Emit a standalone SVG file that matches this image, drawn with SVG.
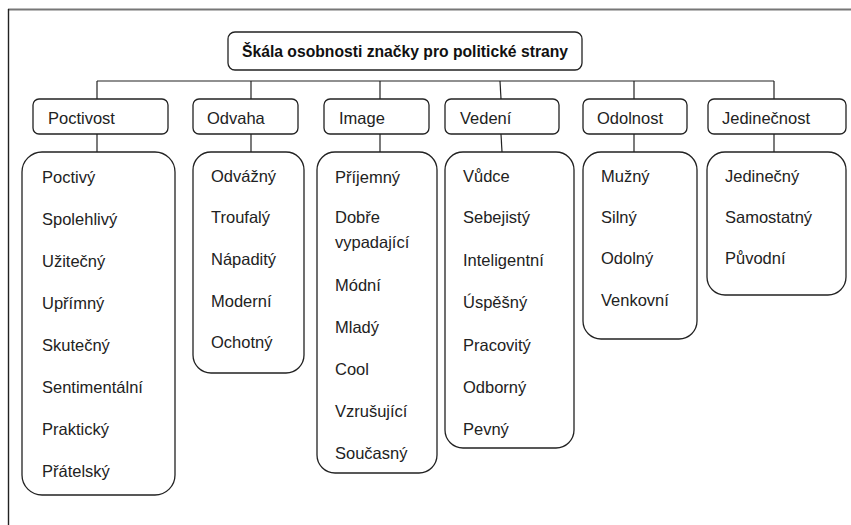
<svg xmlns="http://www.w3.org/2000/svg" width="851" height="525" viewBox="0 0 851 525">
<style>
.box{fill:#fff;stroke:#222;stroke-width:1.3}
.t{font-family:"Liberation Sans",Arial,sans-serif;font-size:16.5px;fill:#222}
.title{font-family:"Liberation Sans",Arial,sans-serif;font-size:15.7px;font-weight:bold;fill:#111}
.c line{stroke:#222;stroke-width:1.2}
</style>
<rect width="851" height="525" fill="#fff"/>
<g id="frame">
<line x1="8" y1="9.5" x2="851" y2="9.5" stroke="#777" stroke-width="1.8"/>
<line x1="8.5" y1="9" x2="8.5" y2="525" stroke="#222" stroke-width="1.4"/>
</g>
<g class="c" id="connectors">
<line x1="97" y1="81" x2="774" y2="81"/>
<line x1="97" y1="81" x2="97" y2="99"/>
<line x1="251" y1="81" x2="251" y2="99"/>
<line x1="380" y1="81" x2="380" y2="99"/>
<line x1="500" y1="81" x2="501" y2="99"/>
<line x1="634" y1="81" x2="634" y2="99"/>
<line x1="774" y1="81" x2="774" y2="99"/>
<line x1="97" y1="134" x2="97" y2="152"/>
<line x1="251" y1="134" x2="251" y2="152"/>
<line x1="380" y1="134" x2="380" y2="152"/>
<line x1="501" y1="134" x2="502" y2="152"/>
<line x1="634" y1="134" x2="634" y2="152"/>
<line x1="774" y1="134" x2="774" y2="152"/>
</g>
<g id="title">
<rect class="box" x="228" y="32" width="354" height="38" rx="7"/>
<text class="title" x="405" y="57" text-anchor="middle">Škála osobnosti značky pro politické strany</text>
</g>
<g id="cat-poctivost">
<rect class="box" x="33" y="99" width="135" height="35" rx="6"/>
<text class="t" x="48" y="124">Poctivost</text>
</g>
<g id="cat-odvaha">
<rect class="box" x="193" y="99" width="105" height="35" rx="6"/>
<text class="t" x="207" y="124">Odvaha</text>
</g>
<g id="cat-image">
<rect class="box" x="324" y="99" width="105" height="35" rx="6"/>
<text class="t" x="339" y="124">Image</text>
</g>
<g id="cat-vedeni">
<rect class="box" x="445" y="99" width="114" height="35" rx="6"/>
<text class="t" x="460" y="124">Vedení</text>
</g>
<g id="cat-odolnost">
<rect class="box" x="583" y="99" width="104" height="35" rx="6"/>
<text class="t" x="597" y="124">Odolnost</text>
</g>
<g id="cat-jedinecnost">
<rect class="box" x="708" y="99" width="138" height="35" rx="6"/>
<text class="t" x="722" y="124">Jedinečnost</text>
</g>
<g id="list-poctivost">
<rect class="box" x="22" y="152" width="153" height="343" rx="20"/>
<text class="t" x="42" y="183">Poctivý</text>
<text class="t" x="42" y="225">Spolehlivý</text>
<text class="t" x="42" y="267">Užitečný</text>
<text class="t" x="42" y="309">Upřímný</text>
<text class="t" x="42" y="351">Skutečný</text>
<text class="t" x="42" y="393">Sentimentální</text>
<text class="t" x="42" y="435">Praktický</text>
<text class="t" x="42" y="477">Přátelský</text>
</g>
<g id="list-odvaha">
<rect class="box" x="193" y="152" width="111" height="221" rx="18"/>
<text class="t" x="211" y="182">Odvážný</text>
<text class="t" x="211" y="223">Troufalý</text>
<text class="t" x="211" y="265">Nápaditý</text>
<text class="t" x="211" y="307">Moderní</text>
<text class="t" x="211" y="348">Ochotný</text>
</g>
<g id="list-image">
<rect class="box" x="317" y="152" width="120" height="321" rx="18"/>
<text class="t" x="335" y="183">Příjemný</text>
<text class="t" x="335" y="223">Dobře</text>
<text class="t" x="335" y="248">vypadající</text>
<text class="t" x="335" y="291">Módní</text>
<text class="t" x="335" y="333">Mladý</text>
<text class="t" x="335" y="375">Cool</text>
<text class="t" x="335" y="417">Vzrušující</text>
<text class="t" x="335" y="459">Současný</text>
</g>
<g id="list-vedeni">
<rect class="box" x="445" y="152" width="129" height="296" rx="18"/>
<text class="t" x="463" y="182">Vůdce</text>
<text class="t" x="463" y="223">Sebejistý</text>
<text class="t" x="463" y="266">Inteligentní</text>
<text class="t" x="463" y="308">Úspěšný</text>
<text class="t" x="463" y="351">Pracovitý</text>
<text class="t" x="463" y="393">Odborný</text>
<text class="t" x="463" y="435">Pevný</text>
</g>
<g id="list-odolnost">
<rect class="box" x="583" y="152" width="114" height="187" rx="18"/>
<text class="t" x="601" y="182">Mužný</text>
<text class="t" x="601" y="223">Silný</text>
<text class="t" x="601" y="264">Odolný</text>
<text class="t" x="601" y="306">Venkovní</text>
</g>
<g id="list-jedinecnost">
<rect class="box" x="707" y="152" width="139" height="143" rx="18"/>
<text class="t" x="725" y="182">Jedinečný</text>
<text class="t" x="725" y="223">Samostatný</text>
<text class="t" x="725" y="264">Původní</text>
</g>
</svg>
